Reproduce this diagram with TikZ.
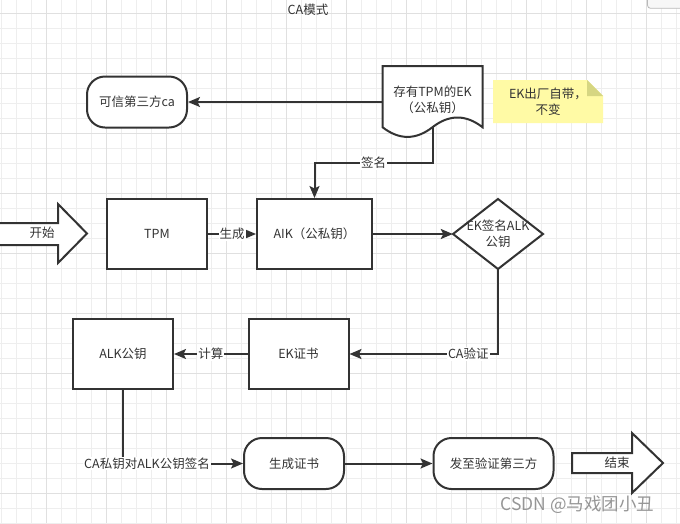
\documentclass[tikz,border=0pt]{standalone}
\usepackage{fontspec}
\setmainfont{Noto Sans CJK SC}
\usetikzlibrary{arrows.meta,positioning,calc}
\definecolor{inkgray}{RGB}{51,51,51}
\definecolor{gridminor}{RGB}{238,238,238}
\definecolor{gridmajor}{RGB}{224,224,224}
\definecolor{notefill}{RGB}{255,250,165}
\definecolor{notefold}{RGB}{214,214,130}
\definecolor{markgray}{RGB}{150,150,150}
\tikzset{
  boxtext/.style={text=inkgray, font=\fontsize{12.5}{16}\selectfont, align=center},
  procbox/.style={boxtext, draw=inkgray, fill=white, line width=2pt, rectangle,
    minimum width=100pt, minimum height=70pt, inner sep=0pt},
  termbox/.style={procbox, rounded corners=18pt, minimum height=51pt},
  shapeonly/.style={boxtext, rectangle, inner sep=0pt},
  flow/.style={draw=inkgray, line width=2pt, -{Stealth[length=12pt,width=10pt,inset=2.5pt]}},
  edgelabel/.style={boxtext, fill=white, inner sep=1pt},
  outline/.style={draw=inkgray, fill=white, line width=2pt, line join=miter},
}

\begin{document}
\begin{tikzpicture}[x=1pt,y=-1pt]
  \useasboundingbox (0,0) rectangle (680,523);
  \fill[white] (0,0) rectangle (680,523);

  % grid
  \begin{scope}
    \clip (0,0) rectangle (680,523);
    \foreach \gx in {0,...,45} \draw[gridminor, line width=0.8pt] ({1.7+15*\gx},0) -- ++(0,523);
    \foreach \gy in {0,...,34} \draw[gridminor, line width=0.8pt] (0,{13.3+15*\gy}) -- ++(680,0);
    \foreach \gx in {0,...,10} \draw[gridmajor, line width=0.8pt] ({46.7+60*\gx},0) -- ++(0,523);
    \foreach \gy in {0,...,8} \draw[gridmajor, line width=0.8pt] (0,{13.3+60*\gy}) -- ++(680,0);
    \draw[fill=gray!6, draw=gray!55, line width=0.8pt, rounded corners=3pt] (647.5,-10) rectangle (700,8.3);
  \end{scope}

  \node[boxtext] (title) at (308,10) {CA模式};

  % top row
  \node[termbox] (trustca) at (137,102) {可信第三方ca};

  \coordinate (ekcorner) at (382.5,66);
  \begin{scope}[shift={(ekcorner)}]
    \draw[outline] (0,0) -- (100,0) -- (100,61.2)
      .. controls (83.33,48.27) and (66.67,48.27) .. (50,61.2)
      .. controls (33.33,74.13) and (16.67,74.13) .. (0,61.2) -- cycle;
    \coordinate (ekbot) at (50,61.2);
  \end{scope}
  \node[shapeonly, minimum width=100pt, minimum height=72pt] (ekdoc) at (432.5,100) {存有TPM的EK\\（公私钥）};

  % note
  \fill[notefill] (493,80) -- (587,80) -- (603,96) -- (603,123) -- (493,123) -- cycle;
  \fill[notefold] (587,80) -- (603,96) -- (587,96) -- cycle;
  \node[shapeonly, minimum width=110pt, minimum height=43pt] (eknote) at (548,102) {EK出厂自带，\\不变};

  % middle row
  \node[procbox] (tpm) at (157,234) {TPM};
  \node[procbox, minimum width=115pt] (aik) at (314.5,234) {AIK（公私钥）};
  \draw[outline] (498,199) -- (543,234) -- (498,269) -- (453,234) -- cycle;
  \node[shapeonly, minimum width=90pt, minimum height=70pt] (dia) at (498,234) {EK签名ALK\\公钥};

  % lower rows
  \node[procbox] (ekcert) at (298.5,354) {EK证书};
  \node[procbox] (alk) at (123,354) {ALK公钥};
  \node[termbox] (gencert) at (294,463.5) {生成证书};
  \node[termbox, minimum width=120pt] (sendca) at (493.5,463.5) {发至验证第三方};

  % start / end arrows
  \draw[outline] (-5,223) -- (58,223) -- (58,204) -- (87,233.5) -- (58,263) -- (58,245) -- (-5,245);
  \node[boxtext] (startlbl) at (42,233) {开始};
  \draw[outline] (572,453) -- (632,453) -- (632,433) -- (663,463) -- (632,493) -- (632,473) -- (572,473) -- cycle;
  \node[boxtext] (endlbl) at (617,463) {结束};

  % connectors
  \coordinate (signturn) at (432.5,163);
  \draw[flow] (ekdoc.west |- trustca.east) -- (trustca.east);
  \draw[flow] (ekbot) -- (signturn) -| node[edgelabel, pos=0.25] {签名} (aik.north);
  \draw[flow] (tpm) -- node[edgelabel] {生成} (aik);
  \draw[flow] (aik) -- (dia.west);
  \draw[flow] (dia.south) |- node[edgelabel, pos=0.6] {CA验证} (ekcert.east);
  \draw[flow] (ekcert) -- node[edgelabel] {计算} (alk);
  \draw[flow] (alk.south) |- node[edgelabel, pos=0.6] {CA私钥对ALK公钥签名} (gencert.west);
  \draw[flow] (gencert) -- (sendca);

  \node[text=markgray, font=\fontsize{17.5}{20}\selectfont, inner sep=0pt] (mark) at (577.5,505) {CSDN @马戏团小丑};
\end{tikzpicture}
\end{document}
